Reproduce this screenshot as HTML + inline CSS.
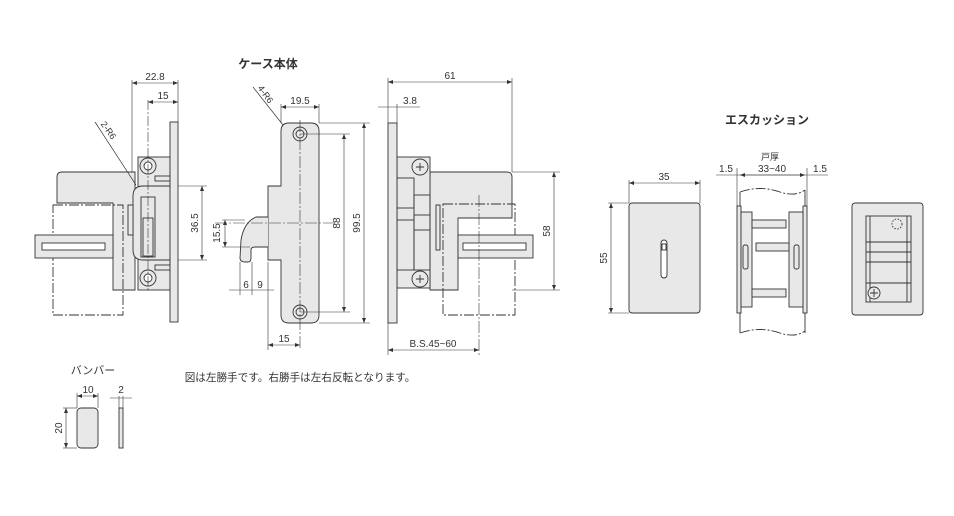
<!DOCTYPE html>
<html><head><meta charset="utf-8"><style>
html,body{margin:0;padding:0;background:#fff;}
svg{display:block;}
text{font-family:"Liberation Sans","Noto Sans CJK JP",sans-serif;fill:#333;}
</style></head><body>
<svg width="954" height="516" viewBox="0 0 954 516" xmlns="http://www.w3.org/2000/svg">
<defs>
<marker id="a" markerWidth="6" markerHeight="6" refX="5" refY="3" orient="auto-start-reverse" markerUnits="userSpaceOnUse"><path d="M0,1 L5,3 L0,5" fill="#333"/></marker>
</defs>
<g stroke="#333" stroke-width="0.9" fill="none">
<!-- LEFT VIEW -->
<path d="M62,172 L135,172 L135,290 L113,290 L113,203 L57,203 L57,177 Q57,172 62,172Z" fill="#e8e8e8"/>
<rect x="53" y="205" width="70" height="110" stroke-dasharray="10,2,2,2"/>
<rect x="35" y="235" width="78" height="23" fill="#e8e8e8"/>
<rect x="42" y="243" width="63" height="7" fill="#fff"/>
<rect x="138" y="157" width="32" height="133" fill="#e8e8e8"/>
<circle cx="148" cy="166" r="8" fill="#e8e8e8"/><circle cx="148" cy="166" r="4" fill="#fff"/>
<circle cx="148" cy="278" r="8" fill="#e8e8e8"/><circle cx="148" cy="278" r="4" fill="#fff"/>
<path d="M143,186 L170,186 L170,260 L143,260 Q133,260 133,250 L133,196 Q133,186 143,186Z" fill="#e8e8e8"/>
<rect x="128" y="205" width="5" height="30" fill="#e8e8e8"/>
<rect x="141" y="197" width="14" height="60"/>
<rect x="143" y="218" width="10" height="38"/>
<rect x="155" y="176" width="15" height="5"/><rect x="155" y="265" width="15" height="5"/>
<rect x="170" y="122" width="8" height="200" fill="#e8e8e8"/>
<line x1="148" y1="100" x2="148" y2="290" stroke-dasharray="10,2,2,2" stroke-width="0.6"/>
<line x1="95" y1="122" x2="136" y2="185" stroke-width="0.7"/>
<line x1="132" y1="80" x2="132" y2="172" stroke-width="0.6"/>
<line x1="178" y1="80" x2="178" y2="122" stroke-width="0.6"/>
<line x1="132" y1="83" x2="178" y2="83" marker-start="url(#a)" marker-end="url(#a)" stroke-width="0.6"/>
<line x1="148" y1="102" x2="178" y2="102" marker-start="url(#a)" marker-end="url(#a)" stroke-width="0.6"/>
<line x1="178" y1="186" x2="207" y2="186" stroke-width="0.6"/><line x1="178" y1="260" x2="207" y2="260" stroke-width="0.6"/>
<line x1="202" y1="186" x2="202" y2="260" marker-start="url(#a)" marker-end="url(#a)" stroke-width="0.6"/>

<!-- MIDDLE VIEW -->
<path d="M289,123 L311,123 Q319,123 319,131 L319,315 Q319,323 311,323 L289,323 Q281,323 281,315 L281,260 L268,260 L268,186 L281,186 L281,131 Q281,123 289,123Z" fill="#e8e8e8"/>
<path d="M268,217 L256,217 Q244,222 241,240 L240,258 Q240,262 245,262 L248,262 Q251,262 251,258 L251,250 Q251,247 255,247 L268,247" fill="#e8e8e8"/>
<circle cx="300" cy="134" r="7" fill="#e8e8e8"/><circle cx="300" cy="134" r="4"/>
<circle cx="300" cy="312" r="7" fill="#e8e8e8"/><circle cx="300" cy="312" r="4"/>
<line x1="300" y1="120" x2="300" y2="350" stroke-dasharray="12,2,2,2" stroke-width="0.6"/>
<line x1="215" y1="223" x2="335" y2="223" stroke-dasharray="12,2,2,2" stroke-width="0.6"/>
<line x1="253" y1="87" x2="283" y2="125" stroke-width="0.7"/>
<line x1="281" y1="104" x2="281" y2="123" stroke-width="0.6"/><line x1="319" y1="104" x2="319" y2="123" stroke-width="0.6"/>
<line x1="281" y1="107" x2="319" y2="107" marker-start="url(#a)" marker-end="url(#a)" stroke-width="0.6"/>
<line x1="300" y1="134" x2="350" y2="134" stroke-width="0.6"/><line x1="300" y1="312" x2="350" y2="312" stroke-width="0.6"/>
<line x1="344" y1="134" x2="344" y2="312" marker-start="url(#a)" marker-end="url(#a)" stroke-width="0.6"/>
<line x1="319" y1="123" x2="370" y2="123" stroke-width="0.6"/><line x1="319" y1="323" x2="370" y2="323" stroke-width="0.6"/>
<line x1="364" y1="123" x2="364" y2="323" marker-start="url(#a)" marker-end="url(#a)" stroke-width="0.6"/>
<line x1="222" y1="220" x2="245" y2="220" stroke-width="0.6"/><line x1="222" y1="247" x2="250" y2="247" stroke-width="0.6"/>
<line x1="225" y1="220" x2="225" y2="247" marker-start="url(#a)" marker-end="url(#a)" stroke-width="0.6"/>
<line x1="240" y1="262" x2="240" y2="295" stroke-width="0.6"/><line x1="252" y1="262" x2="252" y2="295" stroke-width="0.6"/><line x1="268" y1="262" x2="268" y2="350" stroke-width="0.6"/>
<line x1="229" y1="290" x2="274" y2="290" stroke-width="0.6"/>
<line x1="268" y1="345" x2="300" y2="345" marker-start="url(#a)" marker-end="url(#a)" stroke-width="0.6"/>

<!-- RIGHT VIEW -->
<path d="M430,172 L507,172 Q512,172 512,177 L512,218 L458,218 L458,290 L430,290Z" fill="#e8e8e8"/>
<rect x="443" y="204" width="72" height="111" stroke-dasharray="10,2,2,2"/>
<rect x="458" y="235" width="75" height="23" fill="#e8e8e8"/>
<rect x="463" y="243" width="63" height="7" fill="#fff"/>
<rect x="397" y="157" width="33" height="131" fill="#e8e8e8"/>
<rect x="397" y="178" width="17" height="30"/><rect x="414" y="195" width="16" height="35"/>
<rect x="397" y="220" width="17" height="50"/><rect x="414" y="215" width="16" height="55"/>
<rect x="436" y="205" width="4" height="45"/>
<circle cx="420" cy="167" r="8" fill="#e8e8e8"/><path d="M416,167 h8 M420,163 v8"/>
<circle cx="420" cy="279" r="8" fill="#e8e8e8"/><path d="M416,279 h8 M420,275 v8"/>
<rect x="388" y="123" width="9" height="200" fill="#e8e8e8"/>
<line x1="479" y1="195" x2="479" y2="355" stroke-dasharray="12,2,2,2" stroke-width="0.6"/>
<line x1="388" y1="78" x2="388" y2="123" stroke-width="0.6"/><line x1="512" y1="78" x2="512" y2="172" stroke-width="0.6"/>
<line x1="388" y1="82" x2="512" y2="82" marker-start="url(#a)" marker-end="url(#a)" stroke-width="0.6"/>
<line x1="397" y1="104" x2="397" y2="123" stroke-width="0.6"/>
<line x1="378" y1="107" x2="420" y2="107" stroke-width="0.6"/>
<line x1="512" y1="172" x2="560" y2="172" stroke-width="0.6"/><line x1="512" y1="290" x2="560" y2="290" stroke-width="0.6"/>
<line x1="554" y1="172" x2="554" y2="290" marker-start="url(#a)" marker-end="url(#a)" stroke-width="0.6"/>
<line x1="388" y1="323" x2="388" y2="355" stroke-width="0.6"/>
<line x1="388" y1="350" x2="479" y2="350" marker-start="url(#a)" marker-end="url(#a)" stroke-width="0.6"/>

<!-- ESCUTCHEON -->
<rect x="629" y="203" width="71" height="110" rx="3" fill="#e8e8e8"/>
<rect x="661" y="240" width="6" height="38" rx="3" fill="#fff"/>
<rect x="662" y="244" width="4" height="6"/>
<line x1="629" y1="180" x2="629" y2="203" stroke-width="0.6"/><line x1="700" y1="180" x2="700" y2="203" stroke-width="0.6"/>
<line x1="629" y1="183" x2="700" y2="183" marker-start="url(#a)" marker-end="url(#a)" stroke-width="0.6"/>
<line x1="608" y1="203" x2="629" y2="203" stroke-width="0.6"/><line x1="608" y1="313" x2="629" y2="313" stroke-width="0.6"/>
<line x1="611" y1="203" x2="611" y2="313" marker-start="url(#a)" marker-end="url(#a)" stroke-width="0.6"/>
<path d="M740,192 Q760,185 780,192 Q795,197 805,190" stroke-dasharray="10,2,2,2"/>
<path d="M740,333 Q760,326 780,333 Q795,338 805,331" stroke-dasharray="10,2,2,2"/>
<line x1="740" y1="192" x2="740" y2="333"/><line x1="805" y1="190" x2="805" y2="333"/>
<rect x="737" y="206" width="4" height="107" fill="#e8e8e8"/>
<rect x="741" y="212" width="11" height="95" fill="#e8e8e8"/>
<rect x="803" y="206" width="4" height="107" fill="#e8e8e8"/>
<rect x="789" y="212" width="14" height="95" fill="#e8e8e8"/>
<rect x="752" y="220" width="34" height="8" fill="#e8e8e8"/>
<rect x="756" y="243" width="33" height="8" fill="#e8e8e8"/>
<rect x="752" y="289" width="34" height="8" fill="#e8e8e8"/>
<rect x="743" y="245" width="5" height="24" rx="2"/><rect x="794" y="245" width="5" height="24" rx="2"/>
<line x1="737" y1="168" x2="737" y2="206" stroke-width="0.6"/><line x1="807" y1="168" x2="807" y2="206" stroke-width="0.6"/>
<line x1="716" y1="175" x2="828" y2="175" stroke-width="0.6"/>
<line x1="740" y1="175" x2="805" y2="175" marker-start="url(#a)" marker-end="url(#a)" stroke-width="0.6"/>
<rect x="852" y="203" width="71" height="112" rx="3" fill="#e8e8e8"/>
<rect x="866" y="216" width="45" height="86" fill="#e8e8e8"/>
<line x1="866" y1="242" x2="911" y2="242"/><line x1="866" y1="252" x2="911" y2="252"/><line x1="866" y1="262" x2="911" y2="262"/><line x1="866" y1="283" x2="911" y2="283"/>
<line x1="870" y1="216" x2="870" y2="302"/><line x1="907" y1="216" x2="907" y2="302"/>
<circle cx="897" cy="224" r="5" stroke-dasharray="1.5,1.5"/>
<circle cx="874" cy="293" r="6" fill="#e8e8e8"/><path d="M870,293 h8 M874,289 v8"/>

<!-- BUMPER -->
<rect x="77" y="408" width="21" height="40" rx="4" fill="#e8e8e8"/>
<line x1="77" y1="393" x2="77" y2="408" stroke-width="0.6"/><line x1="98" y1="393" x2="98" y2="408" stroke-width="0.6"/>
<line x1="77" y1="396" x2="98" y2="396" marker-start="url(#a)" marker-end="url(#a)" stroke-width="0.6"/>
<line x1="63" y1="408" x2="77" y2="408" stroke-width="0.6"/><line x1="63" y1="448" x2="77" y2="448" stroke-width="0.6"/>
<line x1="66" y1="408" x2="66" y2="448" marker-start="url(#a)" marker-end="url(#a)" stroke-width="0.6"/>
<rect x="119" y="408" width="4" height="40" fill="#e8e8e8"/>
<line x1="119" y1="396" x2="119" y2="408" stroke-width="0.6"/><line x1="123" y1="396" x2="123" y2="408" stroke-width="0.6"/>
<line x1="110" y1="398" x2="132" y2="398" stroke-width="0.6"/>
</g>
<g font-size="10" text-anchor="middle">
<text x="268" y="68" font-size="12" font-weight="bold">ケース本体</text>
<text x="767" y="124" font-size="12" font-weight="bold">エスカッション</text>
<text x="155" y="80">22.8</text>
<text x="163" y="99">15</text>
<text x="300" y="104">19.5</text>
<text x="450" y="79">61</text>
<text x="410" y="104">3.8</text>
<text x="246" y="288">6</text>
<text x="260" y="288">9</text>
<text x="284" y="342">15</text>
<text x="433" y="347">B.S.45~60</text>
<text x="664" y="180">35</text>
<text x="770" y="160" font-size="9">戸厚</text>
<text x="726" y="172">1.5</text>
<text x="772" y="172">33~40</text>
<text x="820" y="172">1.5</text>
<text x="88" y="393">10</text>
<text x="121" y="393">2</text>
<text x="93" y="374" font-size="11">バンバー</text>
<text x="300" y="381" font-size="10.6">図は左勝手です。右勝手は左右反転となります。</text>
<text transform="translate(198,223) rotate(-90)">36.5</text>
<text transform="translate(220,233) rotate(-90)">15.5</text>
<text transform="translate(340,223) rotate(-90)">88</text>
<text transform="translate(360,223) rotate(-90)">99.5</text>
<text transform="translate(550,231) rotate(-90)">58</text>
<text transform="translate(607,258) rotate(-90)">55</text>
<text transform="translate(62,428) rotate(-90)">20</text>
<text transform="translate(106,132) rotate(55)" font-size="9">2-R6</text>
<text transform="translate(263,96) rotate(55)" font-size="9">4-R6</text>
</g>
</svg>
</body></html>
